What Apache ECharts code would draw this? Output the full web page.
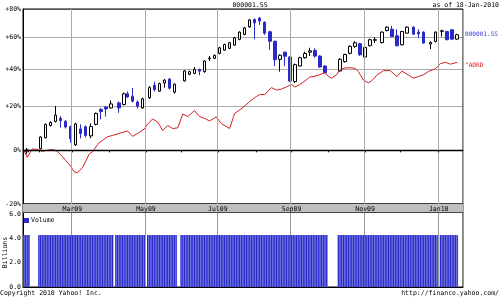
<!DOCTYPE html>
<html><head><meta charset="utf-8">
<script src="https://cdn.jsdelivr.net/npm/echarts@6/dist/echarts.min.js"></script>
<style>html,body{margin:0;padding:0;background:#fff}#c{width:500px;height:297px}</style>
</head><body><div id="c"></div>
<script>
// ---------- data (percent change vs. start) ----------
const candleDates = ['2009-01-22','2009-02-03','2009-02-06','2009-02-11','2009-02-16','2009-02-19','2009-02-24','2009-02-27','2009-03-04','2009-03-09','2009-03-12','2009-03-17','2009-03-20','2009-03-25','2009-03-30','2009-04-02','2009-04-09','2009-04-14','2009-04-16','2009-04-21','2009-04-24','2009-04-29','2009-05-05','2009-05-08','2009-05-13','2009-05-18','2009-05-21','2009-05-26','2009-06-03','2009-06-08','2009-06-11','2009-06-16','2009-06-19','2009-06-24','2009-06-29','2009-07-02','2009-07-07','2009-07-10','2009-07-15','2009-07-20','2009-07-23','2009-07-28','2009-07-31','2009-08-05','2009-08-10','2009-08-13','2009-08-18','2009-08-21','2009-08-26','2009-08-31','2009-09-03','2009-09-08','2009-09-11','2009-09-16','2009-09-21','2009-09-24','2009-09-29','2009-10-12','2009-10-15','2009-10-20','2009-10-23','2009-10-28','2009-11-02','2009-11-05','2009-11-10','2009-11-16','2009-11-19','2009-11-24','2009-11-27','2009-12-02','2009-12-07','2009-12-11','2009-12-16','2009-12-21','2009-12-25','2009-12-30','2010-01-05','2010-01-08','2010-01-13','2010-01-18'];
const candleOpen  = [-0.6,0.7,5.4,10.9,12.8,14.2,12.8,10.3,2.3,9.3,10.3,6.2,11.4,18.5,19.7,19.3,21.8,21.0,26.5,25.2,22.3,19.3,24.4,31.1,27.9,32.3,34.5,27.4,33.5,37.2,37.7,40.0,38.7,46.3,46.6,49.6,51.7,52.8,54.9,58.6,61.9,67.1,72.3,73.3,70.3,63.7,57.4,46.0,50.4,47.4,33.1,42.0,47.0,50.4,51.5,48.0,42.0,39.1,44.6,49.7,54.1,55.8,47.4,54.5,58.1,56.6,64.6,65.5,61.0,55.1,62.8,66.9,63.5,63.5,55.6,57.2,64.0,63.9,65.1,58.8];
const candleClose = [0.2,5.7,11.4,12.3,15.8,13.2,10.2,5.0,11.6,7.3,6.4,10.4,16.6,17.5,18.8,21.3,19.3,26.5,24.9,22.7,20.1,23.9,29.8,28.7,32.0,33.9,29.5,31.7,39.1,38.7,40.0,39.0,45.0,46.7,48.4,53.2,55.3,56.4,59.7,63.5,66.4,72.0,69.9,71.3,62.8,57.4,45.8,48.5,47.9,33.4,42.8,47.0,49.6,51.3,48.0,41.4,38.1,46.0,49.0,54.1,56.4,48.8,53.4,58.4,58.4,63.5,66.9,60.5,54.5,63.9,66.9,62.1,62.3,56.2,56.6,63.5,64.4,58.4,58.8,61.7];
const candleLow   = [-1.6,0.4,5.1,10.4,12.3,9.9,9.5,3.2,1.9,5.1,5.5,5.1,10.9,13.7,15.1,19.0,16.9,20.5,24.3,22.0,19.0,18.8,23.8,27.7,27.5,29.8,28.7,26.6,33.1,36.7,37.3,36.6,38.1,45.0,46.1,49.1,51.3,52.3,54.5,58.1,61.4,66.4,58.7,68.5,61.7,51.9,41.9,38.7,41.9,32.8,32.3,41.6,46.4,48.0,47.0,41.0,37.6,38.7,44.0,49.1,53.2,48.1,45.8,54.1,56.2,55.9,64.0,60.3,54.0,54.8,62.4,61.7,59.5,55.8,52.4,56.7,60.5,58.1,58.4,58.4];
const candleHigh  = [1.0,6.0,11.8,12.8,20.2,15.3,13.5,10.9,12.1,11.4,10.9,11.8,17.0,19.2,20.2,23.0,22.5,27.2,27.8,29.6,23.0,24.5,30.6,33.1,32.5,34.5,35.0,32.0,39.6,39.3,41.4,40.4,45.5,48.0,49.1,53.8,55.8,57.0,60.3,64.0,67.1,72.7,73.1,74.2,71.0,64.4,57.7,49.0,50.7,47.9,43.4,47.6,50.7,53.2,52.9,48.5,42.5,46.8,49.4,54.8,57.4,56.4,53.8,59.1,60.1,64.0,67.5,67.8,65.4,64.4,67.5,67.5,65.5,64.0,57.2,64.0,65.1,64.4,65.4,62.4];

const aordDates = ['2009-01-20','2009-01-22','2009-01-27','2009-01-30','2009-02-04','2009-02-09','2009-02-12','2009-02-17','2009-02-20','2009-02-24','2009-02-25','2009-02-27','2009-03-03','2009-03-05','2009-03-10','2009-03-12','2009-03-16','2009-03-18','2009-03-23','2009-03-24','2009-03-26','2009-03-31','2009-04-03','2009-04-09','2009-04-16','2009-04-21','2009-04-24','2009-04-30','2009-05-04','2009-05-07','2009-05-12','2009-05-15','2009-05-20','2009-05-25','2009-05-28','2009-06-02','2009-06-05','2009-06-11','2009-06-16','2009-06-19','2009-06-24','2009-06-30','2009-07-03','2009-07-10','2009-07-15','2009-07-22','2009-07-28','2009-08-03','2009-08-05','2009-08-10','2009-08-14','2009-08-19','2009-08-24','2009-08-27','2009-09-01','2009-09-03','2009-09-08','2009-09-11','2009-09-16','2009-09-21','2009-09-24','2009-09-29','2009-10-01','2009-10-05','2009-10-08','2009-10-12','2009-10-15','2009-10-20','2009-10-23','2009-10-27','2009-10-30','2009-11-04','2009-11-06','2009-11-11','2009-11-17','2009-11-23','2009-11-27','2009-12-02','2009-12-08','2009-12-11','2009-12-16','2009-12-21','2009-12-24','2009-12-30','2010-01-04','2010-01-07','2010-01-12','2010-01-18'];
const aordPct = [0,-2.9,0.6,0.4,-0.4,0,0.4,-0.4,-2.5,-4.1,-4.4,-6.4,-8.5,-8.9,-7.0,-4.4,-1.6,-0.6,2.3,3.2,4.2,5.8,6.4,7.3,8.4,6.0,7.3,9.3,11.6,13.9,12.5,8.6,10.9,9.5,9.8,16.3,15.1,18.0,15.1,14.2,13.0,14.9,11.8,9.5,16.6,19.5,22.5,25.1,26.1,26.1,29.8,28.5,29.0,30.2,31.5,30.1,31.5,33.4,35.7,36.1,37.0,38.1,36.1,35.0,37.0,39.9,40.9,41.0,40.6,38.7,33.9,32.4,33.6,36.7,39.3,39.3,35.9,39.0,36.7,35.0,36.0,37.0,38.9,40.4,43.4,44.2,43.1,44.2];

const holidays = ['2009-01-26','2009-01-27','2009-01-28','2009-01-29','2009-01-30','2009-04-06','2009-05-01','2009-05-28','2009-05-29','2009-10-01','2009-10-02','2009-10-05','2009-10-06','2009-10-07','2009-10-08','2010-01-01'];
const lastTradingDay = '2010-01-18';
// daily volume, billions (one value per trading day, month by month)
const volumeBillions = [
 4.3,4.3,4.3,4.3,
 4.3,4.3,4.3,4.3,4.3,4.3,4.3,4.3,4.3,4.3,4.3,4.3,4.3,4.3,4.3,4.3,4.3,4.3,4.3,4.3,
 4.3,4.3,4.3,4.3,4.3,4.3,4.3,4.3,4.3,4.3,4.3,4.3,4.3,4.3,4.3,4.3,4.3,4.3,4.3,4.3,4.3,4.3,
 4.3,4.3,4.3,4.3,4.3,4.3,4.3,4.3,4.3,4.3,4.3,4.3,4.3,4.3,4.3,4.3,4.3,4.3,4.3,4.3,4.3,
 4.3,4.3,4.3,4.3,4.3,4.3,4.3,4.3,4.3,4.3,4.3,4.3,4.3,4.3,4.3,4.3,4.3,4.3,
 4.3,4.3,4.3,4.3,4.3,4.3,4.3,4.3,4.3,4.3,4.3,4.3,4.3,4.3,4.3,4.3,4.3,4.3,4.3,4.3,4.3,4.3,
 4.3,4.3,4.3,4.3,4.3,4.3,4.3,4.3,4.3,4.3,4.3,4.3,4.3,4.3,4.3,4.3,4.3,4.3,4.3,4.3,4.3,4.3,4.3,
 4.3,4.3,4.3,4.3,4.3,4.3,4.3,4.3,4.3,4.3,4.3,4.3,4.3,4.3,4.3,4.3,4.3,4.3,4.3,4.3,4.3,
 4.3,4.3,4.3,4.3,4.3,4.3,4.3,4.3,4.3,4.3,4.3,4.3,4.3,4.3,4.3,4.3,4.3,4.3,4.3,4.3,4.3,4.3,
 4.3,4.3,4.3,4.3,4.3,4.3,4.3,4.3,4.3,4.3,4.3,4.3,4.3,4.3,4.3,4.3,
 4.3,4.3,4.3,4.3,4.3,4.3,4.3,4.3,4.3,4.3,4.3,4.3,4.3,4.3,4.3,4.3,4.3,4.3,4.3,4.3,4.3,
 4.3,4.3,4.3,4.3,4.3,4.3,4.3,4.3,4.3,4.3,4.3,4.3,4.3,4.3,4.3,4.3,4.3,4.3,4.3,4.3,4.3,4.3,4.3,
 4.3,4.3,4.3,4.3,4.3,4.3,4.3,4.3,4.3,4.3,4.3
];
const yTickPct = [-20, 0, 20, 40, 60, 80];
const monthNames = ['Jan','Feb','Mar','Apr','May','Jun','Jul','Aug','Sep','Oct','Nov','Dec'];

// ---------- build ----------
const FONT = 'DejaVu Sans Mono';
const FS = 6.5;
const BLUE = '#2a2ac8';
const RED = '#d42020';
const L = p => Math.log10(1 + p / 100);
const VOL_TOP = 6.2;                 // top of the volume plotting area
const VOL_MAX = VOL_TOP * 83 / 75;   // extra band above it holds the date strip

function ymd(d){ return d.toISOString().slice(0,10); }
const cats = [];
for (let t = Date.UTC(2009,0,20); t <= Date.UTC(2010,0,21); t += 86400000) {
  const d = new Date(t), w = d.getUTCDay();
  if (w > 0 && w < 6) cats.push(ymd(d));
}
const tradingDays = cats.filter(c => c <= lastTradingDay && holidays.indexOf(c) < 0);
const isMonthStart = i => i > 0 && cats[i].slice(5,7) !== cats[i-1].slice(5,7);
const isMajor = i => isMonthStart(i) && (+cats[i].slice(5,7)) % 2 === 1;
const fmtMonth = v => monthNames[+v.slice(5,7) - 1] + v.slice(2,4);

const candleData = candleDates.map((d, i) => [d, L(candleOpen[i]), L(candleClose[i]), L(candleLow[i]), L(candleHigh[i])]);
const aordData = aordDates.map((d, i) => [d, L(aordPct[i])]);
const volData = tradingDays.map((d, i) => [d, volumeBillions[i]]);

const chart = echarts.init(document.getElementById('c'), null, {renderer: 'canvas'});
const txt = {fontFamily: FONT, fontSize: FS, color: '#000'};
const font = FS + 'px ' + FONT;

chart.setOption({
  animation: false,
  backgroundColor: '#fff',
  textStyle: {fontFamily: FONT},
  grid: [
    {left: 23, top: 9, width: 440, height: 195, show: true, borderColor: '#000', borderWidth: 1, backgroundColor: 'transparent', z: 1},
    {left: 23, top: 204, width: 440, height: 83, show: true, borderColor: '#000', borderWidth: 1, backgroundColor: 'transparent', z: 0}
  ],
  legend: {
    data: [{name: 'Volume', icon: 'rect'}], left: 24, top: 217, padding: 0,
    itemWidth: 5, itemHeight: 5, itemGap: 2, selectedMode: false,
    textStyle: {fontFamily: FONT, fontSize: FS, color: '#000', padding: [0,0,0,-3]}
  },
  xAxis: [
    {type: 'category', gridIndex: 0, data: cats, boundaryGap: true, z: 6,
     axisLine: {show: true, lineStyle: {color: '#000'}},
     axisTick: {show: true, alignWithLabel: true, length: 2, interval: isMonthStart, lineStyle: {color: '#000'}},
     axisLabel: {show: true, interval: isMajor, formatter: fmtMonth, margin: 2, ...txt},
     splitLine: {show: true, interval: isMajor, lineStyle: {color: '#aaa', width: 1}}},
    {type: 'category', gridIndex: 1, data: cats, boundaryGap: true,
     axisLine: {show: true, lineStyle: {color: '#000'}},
     axisTick: {show: false}, axisLabel: {show: false},
     splitLine: {show: true, interval: isMajor, lineStyle: {color: '#999', width: 1}}}
  ],
  yAxis: [
    {type: 'value', gridIndex: 0, min: L(-20), max: L(80),
     axisLine: {show: true, lineStyle: {color: '#000'}},
     axisTick: {show: false, customValues: yTickPct.map(L)},
     axisLabel: {customValues: yTickPct.map(L), margin: 2, ...txt,
       formatter: v => { const p = Math.round((Math.pow(10, v) - 1) * 100); return (p > 0 ? '+' : '') + p + '%'; }},
     splitLine: {show: true, lineStyle: {color: '#aaa', width: 1}}},
    {type: 'value', gridIndex: 1, min: 0, max: VOL_MAX, interval: 2,
     axisLine: {show: true, lineStyle: {color: '#000'}},
     axisTick: {show: false},
     axisLabel: {showMaxLabel: false, margin: 2, ...txt, formatter: v => v.toFixed(1)},
     splitLine: {show: false}}
  ],
  series: [
    {name: '000001.SS', type: 'candlestick', xAxisIndex: 0, yAxisIndex: 0,
     dimensions: ['date','open','close','low','high'],
     encode: {x: 0, y: [1,2,3,4]},
     data: candleData, barWidth: 3,
     itemStyle: {color: '#fff', color0: BLUE, borderColor: '#000', borderColor0: BLUE, borderWidth: 1},
     markLine: {silent: true, symbol: ['none','none'], label: {show: false},
       lineStyle: {color: '#000', width: 1.3, type: 'solid'}, data: [{yAxis: 0}]},
     z: 3},
    {name: '^AORD', type: 'line', xAxisIndex: 0, yAxisIndex: 0, data: aordData,
     showSymbol: false, symbol: 'none', lineStyle: {color: RED, width: 1}, z: 4},
    {name: 'VolumeBg', type: 'bar', xAxisIndex: 1, yAxisIndex: 1, data: volData,
     barWidth: 1.67, barGap: '-100%', itemStyle: {color: '#9ea6ee'}, z: 1,
     markArea: {silent: true, itemStyle: {color: '#bfbfbf', opacity: 1},
       data: [[{yAxis: VOL_TOP}, {yAxis: VOL_MAX}]]},
     markLine: {silent: true, symbol: ['none','none'], label: {show: false},
       lineStyle: {color: '#444', width: 1, type: 'solid'}, data: [{yAxis: VOL_TOP}]}},
    {name: 'Volume', type: 'bar', xAxisIndex: 1, yAxisIndex: 1, data: volData,
     barWidth: 1.25, barGap: '-100%', itemStyle: {color: BLUE}, z: 2}
  ]
});

// series name tags on the right edge, placed at the last values via the chart's own scales
const lastC = chart.convertToPixel({xAxisIndex: 0, yAxisIndex: 0}, [candleDates[candleDates.length-1], L(candleClose[candleClose.length-1])]);
const lastA = chart.convertToPixel({xAxisIndex: 0, yAxisIndex: 0}, [aordDates[aordDates.length-1], L(aordPct[aordPct.length-1])]);
const volMid = chart.convertToPixel({xAxisIndex: 1, yAxisIndex: 1}, [cats[0], VOL_TOP / 2]);
const tagFont = '6.1px ' + FONT;
chart.setOption({graphic: {elements: [
  {id: 'title', type: 'text', x: 250, y: 5, style: {text: '000001.SS', font: font, fill: '#000', align: 'center', verticalAlign: 'middle'}},
  {id: 'asof', type: 'text', x: 499, y: 5, style: {text: 'as of 18-Jan-2010', font: font, fill: '#000', align: 'right', verticalAlign: 'middle'}},
  {id: 'copy', type: 'text', x: 0, y: 293, style: {text: 'Copyright 2010 Yahoo! Inc.', font: font, fill: '#000', align: 'left', verticalAlign: 'middle'}},
  {id: 'url', type: 'text', x: 499, y: 293, style: {text: 'http://finance.yahoo.com/', font: font, fill: '#000', align: 'right', verticalAlign: 'middle'}},
  {id: 'billions', type: 'text', x: 5, y: volMid[1] + 3, rotation: Math.PI / 2, style: {text: 'Billions', font: font, fill: '#000', align: 'center', verticalAlign: 'middle'}},
  {id: 'tagC', type: 'text', x: 465, y: lastC[1], style: {text: '000001.SS', font: tagFont, fill: '#3a3ad0', align: 'left', verticalAlign: 'middle'}},
  {id: 'tagA', type: 'text', x: 465, y: lastA[1] + 3, style: {text: '^AORD', font: tagFont, fill: RED, align: 'left', verticalAlign: 'middle'}}
]}});
</script></body></html>
